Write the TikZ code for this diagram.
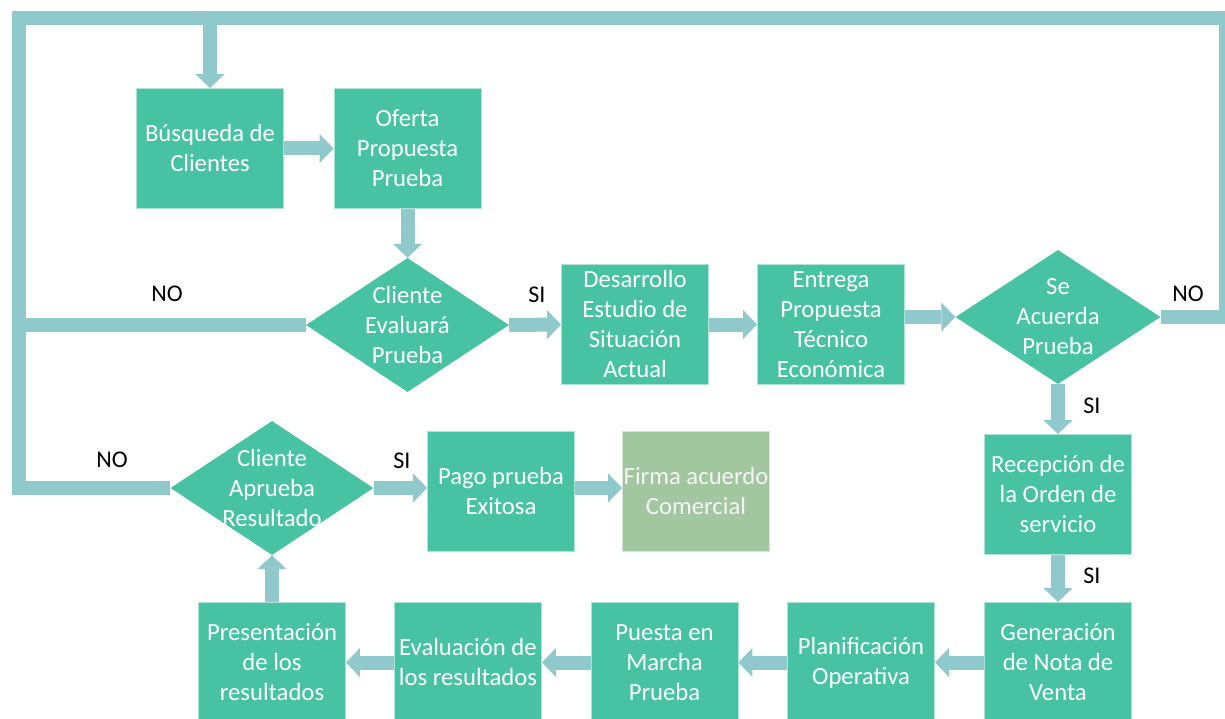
\documentclass[tikz,border=0pt]{standalone}
\usepackage{fontspec}
\setmainfont{Carlito}
\usetikzlibrary{arrows.meta,shapes.geometric}
\definecolor{boxc}{HTML}{47C3A4}
\definecolor{linec}{HTML}{8FC9CC}
\definecolor{firmac}{HTML}{A1C6A0}
\begin{document}
\begin{tikzpicture}[x=1pt,y=-1pt,
  every node/.style={font=\fontsize{24}{30}\selectfont},
  stepbox/.style={rectangle, fill=boxc, draw=white!55!boxc, line width=0.8pt,
    minimum width=147pt, minimum height=120pt, inner sep=0pt, text=white, align=center,
    font=\fontsize{24.7}{30}\selectfont},
  firmabox/.style={stepbox, fill=firmac, draw=white!55!firmac, text=white!96!black},
  decis/.style={diamond, fill=boxc, minimum width=203pt, minimum height=134pt, inner sep=0pt},
  dtext/.style={text=white, align=center, inner sep=0pt, font=\fontsize{24.7}{30}\selectfont},
  lbl/.style={text=black, inner sep=0pt},
  flow/.style={draw=linec, line width=14pt, -{Triangle[length=14pt,width=29pt,line width=0pt]}},
  loopline/.style={draw=linec, line width=14pt, line join=miter}
]
\useasboundingbox (0,0) rectangle (1225,719);

% nodes
\node[stepbox] (busq) at (210,148.5) {Búsqueda de\\Clientes};
\node[stepbox] (ofer) at (407.5,148.5) {Oferta\\Propuesta\\Prueba};
\node[decis] (ev) at (407.5,325) {};
\node[dtext] (evt) at (ev.center) {Cliente\\Evaluará\\Prueba};
\node[stepbox] (des) at (635,324.5) {Desarrollo\\Estudio de\\Situación\\Actual};
\node[stepbox] (ent) at (831,324.5) {Entrega\\Propuesta\\Técnico\\Económica};
\node[decis, minimum width=205pt] (se) at (1058,317) {};
\node[dtext] (set) at (se.center) {Se\\Acuerda\\Prueba};
\node[stepbox] (rec) at (1058,494.5) {Recepción de\\la Orden de\\servicio};
\node[stepbox] (gen) at (1058,662.5) {Generación\\de Nota de\\Venta};
\node[stepbox] (plan) at (861,662.5) {Planificación\\Operativa};
\node[stepbox] (pues) at (664.5,662.5) {Puesta en\\Marcha\\Prueba};
\node[stepbox] (eval) at (468,662.5) {Evaluación de\\los resultados};
\node[stepbox] (pres) at (272,662.5) {Presentación\\de los\\resultados};
\node[decis] (apr) at (272,488) {};
\node[dtext] (aprt) at (apr.center) {Cliente\\Aprueba\\Resultado};
\node[stepbox] (pago) at (501,491.5) {Pago prueba\\Exitosa};
\node[firmabox] (firma) at (696,491.5) {Firma acuerdo\\Comercial};

% loop coordinates
\coordinate (tl) at (19,18);
\coordinate (tr) at (1226,18);
\coordinate (bl) at (19,488);
\coordinate (drop) at (210,18);
\coordinate (evj) at (19,325);

% loop lines
\draw[loopline] (se.east) -| (tr) -- (tl) -- (bl) -- (apr.west);
\draw[loopline] (ev.west) -- (evj);

% arrows
\draw[flow] (drop) -- (busq.north);
\draw[flow] (busq.east) -- (ofer.west);
\draw[flow] (ofer.south) -- (ev.north);
\draw[flow] (ev.east) -- (des.west);
\draw[flow] (des.east) -- (ent.west);
\draw[flow] (se.west -| ent.east) -- (se.west);
\draw[flow] (se.south) -- (rec.north);
\draw[flow] (rec.south) -- (gen.north);
\draw[flow] (gen.west) -- (plan.east);
\draw[flow] (plan.west) -- (pues.east);
\draw[flow] (pues.west) -- (eval.east);
\draw[flow] (eval.west) -- (pres.east);
\draw[flow] (pres.north) -- (apr.south);
\draw[flow] (apr.east) -- (apr.east -| pago.west);
\draw[flow] (pago.east |- apr.east) -- (firma.west |- apr.east);

% labels
\node[lbl] (no1) at (167,294) {NO};
\node[lbl] (si1) at (537,295) {SI};
\node[lbl] (no2) at (1188,294) {NO};
\node[lbl] (si2) at (1092,406) {SI};
\node[lbl] (si3) at (1092,576) {SI};
\node[lbl] (no3) at (112,460) {NO};
\node[lbl] (si4) at (402,461) {SI};
\end{tikzpicture}
\end{document}
